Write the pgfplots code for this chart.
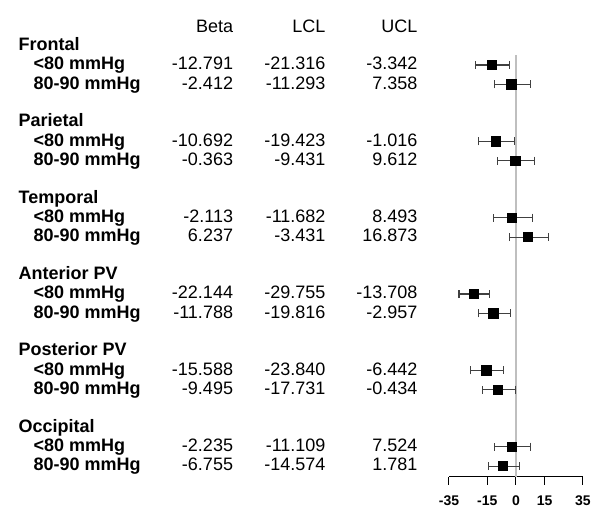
\documentclass[border=0pt]{standalone}
\usepackage{fontspec}
\setmainfont{Liberation Sans}
\usepackage{pgfplots}
\usepackage{pgfplotstable}
\pgfplotsset{compat=1.18}

% y = vertical position of the row (image rows counted from the bottom)
\pgfplotstableread[col sep=comma]{
y,label,beta,lcl,ucl
464,<80 mmHg,-12.791,-21.316,-3.342
444.65,80-90 mmHg,-2.412,-11.293,7.358
387.65,<80 mmHg,-10.692,-19.423,-1.016
368.3,80-90 mmHg,-0.363,-9.431,9.612
311.3,<80 mmHg,-2.113,-11.682,8.493
291.95,80-90 mmHg,6.237,-3.431,16.873
234.95,<80 mmHg,-22.144,-29.755,-13.708
215.6,80-90 mmHg,-11.788,-19.816,-2.957
158.6,<80 mmHg,-15.588,-23.840,-6.442
139.25,80-90 mmHg,-9.495,-17.731,-0.434
82.25,<80 mmHg,-2.235,-11.109,7.524
62.9,80-90 mmHg,-6.755,-14.574,1.781
}\rows

\pgfplotstableread[col sep=comma]{
y,name
483.35,Frontal
407,Parietal
330.65,Temporal
254.3,Anterior PV
177.95,Posterior PV
101.6,Occipital
}\groups

\begin{document}
\begin{tikzpicture}
\begin{axis}[
    x=1.4355pt, y=0.75pt,
    xmin=-35, xmax=35,
    ymin=52, ymax=474,
    clip=false,
    axis x line=bottom,
    axis y line=none,
    x axis line style={-, black, line width=0.75pt},
    xtick={-35,-15,0,15,35},
    tick align=outside,
    major tick length=6pt,
    tick style={black, line width=0.75pt},
    xticklabel style={font=\fontsize{10.5}{12}\selectfont\bfseries, inner sep=0pt, yshift=-8pt},
    /pgf/number format/assume math mode=true,
    point meta=explicit symbolic,
    every node near coord/.style={inner sep=0pt, text height=0.716em, text depth=0pt,
        font=\fontsize{13.5}{16}\selectfont},
]
% invisible frame giving the picture its full size
\path (axis cs:-269.6,0) rectangle (axis cs:43.9,529);

% reference line at zero
\addplot[draw=black!25, line width=1.5pt, forget plot] coordinates {(0,52) (0,474)};

% estimates with confidence limits
\addplot[only marks, mark=square*, mark size=3.5pt, black,
    error bars/.cd, x dir=both, x explicit,
    error mark=|,
    error bar style={black!75, line width=0.8pt},
    error mark options={black!75, mark size=3pt, line width=0.8pt}]
    table[x=beta, y=y,
          x error plus expr={\thisrow{ucl}-\thisrow{beta}},
          x error minus expr={\thisrow{beta}-\thisrow{lcl}}] {\rows};

% column headers
\addplot[draw=none, nodes near coords, every node near coord/.append style={anchor=east}]
    coordinates {(-147.7,501.5) [Beta] (-99.4,501.5) [LCL] (-51.4,501.5) [UCL]};

% group names
\addplot[draw=none, nodes near coords,
    every node near coord/.append style={anchor=west, font=\fontsize{13.5}{16}\selectfont\bfseries}]
    table[x expr=-260.0, y=y, meta=name] {\groups};

% row labels
\addplot[draw=none, nodes near coords,
    every node near coord/.append style={anchor=west, font=\fontsize{13.5}{16}\selectfont\bfseries}]
    table[x expr=-252.2, y=y, meta=label] {\rows};

% number columns
\addplot[draw=none, nodes near coords, every node near coord/.append style={anchor=east}]
    table[x expr=-147.7, y=y, meta=beta] {\rows};
\addplot[draw=none, nodes near coords, every node near coord/.append style={anchor=east}]
    table[x expr=-99.4, y=y, meta=lcl] {\rows};
\addplot[draw=none, nodes near coords, every node near coord/.append style={anchor=east}]
    table[x expr=-51.4, y=y, meta=ucl] {\rows};
\end{axis}
\end{tikzpicture}
\end{document}
